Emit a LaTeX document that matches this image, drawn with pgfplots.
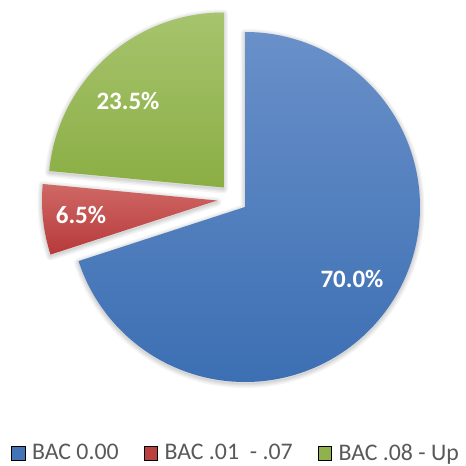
\documentclass[border=0pt]{standalone}
\usepackage{pgfplots}
\usepackage{pgfplotstable}
\usepackage{fontspec}
\setmainfont{Carlito}
\pgfplotsset{compat=1.18}

\definecolor{blueTop}{HTML}{6990C9}
\definecolor{blueBot}{HTML}{3C6FB3}
\definecolor{redTop}{HTML}{CF6865}
\definecolor{redBot}{HTML}{B7393A}
\definecolor{greenTop}{HTML}{A6C46D}
\definecolor{greenBot}{HTML}{8BAE44}
\definecolor{legtext}{HTML}{595959}

% share in percent, explosion offset of each slice (px)
\pgfplotstableread{
value dx dy
70.0 0 0
6.5 -28 6.5
23.5 -21.5 19.5
}\piedata

\pgfplotstablegetelem{0}{value}\of\piedata \let\vA\pgfplotsretval
\pgfplotstablegetelem{1}{value}\of\piedata \let\vB\pgfplotsretval
\pgfplotstablegetelem{2}{value}\of\piedata \let\vC\pgfplotsretval
\pgfplotstablegetelem{1}{dx}\of\piedata \let\dxB\pgfplotsretval
\pgfplotstablegetelem{1}{dy}\of\piedata \let\dyB\pgfplotsretval
\pgfplotstablegetelem{2}{dx}\of\piedata \let\dxC\pgfplotsretval
\pgfplotstablegetelem{2}{dy}\of\piedata \let\dyC\pgfplotsretval

\pgfmathsetmacro\sA{90}
\pgfmathsetmacro\eA{90-3.6*\vA}
\pgfmathsetmacro\eB{\eA-3.6*\vB}
\pgfmathsetmacro\eC{\eB-3.6*\vC}
\pgfmathsetmacro\cx{245}
\pgfmathsetmacro\cy{259}
\def\R{175pt}
\newcommand\pct[1]{\pgfmathprintnumber[fixed,fixed zerofill,precision=1,assume math mode=true]{#1}\%}

% one ring of the soft shadow: width, centre x, centre y, start, end
\newcommand\shring[5]{%
  \draw[black, opacity=0.045, line width=#1pt, line join=round, shift={(0pt,-1.5pt)}]
    (axis cs:#2,#3) -- ++(#4:\R) arc[start angle=#4, end angle=#5, radius=\R] -- cycle;}
% shadow + shaded wedge: centre x, centre y, start, end, top colour, bottom colour
\newcommand\slice[6]{%
  \shring{9}{#1}{#2}{#3}{#4}%
  \shring{6}{#1}{#2}{#3}{#4}%
  \shring{3.5}{#1}{#2}{#3}{#4}%
  \shring{1.5}{#1}{#2}{#3}{#4}%
  \shade[top color=#5, bottom color=#6]
    (axis cs:#1,#2) -- ++(#3:\R) arc[start angle=#3, end angle=#4, radius=\R] -- cycle;}

\begin{document}
\begin{tikzpicture}
\useasboundingbox (0,0) rectangle (466pt,466pt);
\clip (0,0) rectangle (466pt,466pt);
\begin{axis}[
  at={(0,0)}, anchor=south west,
  x=1pt, y=1pt,
  xmin=0, xmax=466, ymin=0, ymax=466,
  hide axis, clip=false,
  legend columns=3,
  legend style={at={(axis cs:8,13)}, anchor=west, draw=none, fill=none,
    font=\fontsize{23.8}{24}\selectfont, text=legtext,
    /tikz/every odd column/.append style={column sep=5pt},
    /tikz/every even column/.append style={column sep=23pt},
    nodes={inner sep=2pt}},
  legend image code/.code={\fill[#1] (0pt,-6.8pt) rectangle (13.5pt,6.8pt);},
]
\slice{\cx}{\cy}{\sA}{\eA}{blueTop}{blueBot}
\slice{\cx+\dxB}{\cy+\dyB}{\eA}{\eB}{redTop}{redBot}
\slice{\cx+\dxC}{\cy+\dyC}{\eB}{\eC}{greenTop}{greenBot}

\addlegendimage{fill=blueBot!85!blueTop}
\addlegendentry{BAC 0.00}
\addlegendimage{fill=redBot!85!redTop}
\addlegendentry{BAC .01\ \ - .07}
\addlegendimage{fill=greenBot!80!greenTop}
\addlegendentry{BAC .08 - Up}

\node[text=white, font=\bfseries\fontsize{25}{25}\selectfont] at (axis cs:352,187) {\pct{\vA}};
\node[text=white, font=\bfseries\fontsize{25}{25}\selectfont] at (axis cs:81,251) {\pct{\vB}};
\node[text=white, font=\bfseries\fontsize{25}{25}\selectfont] at (axis cs:128,365) {\pct{\vC}};
\end{axis}
\end{tikzpicture}
\end{document}
